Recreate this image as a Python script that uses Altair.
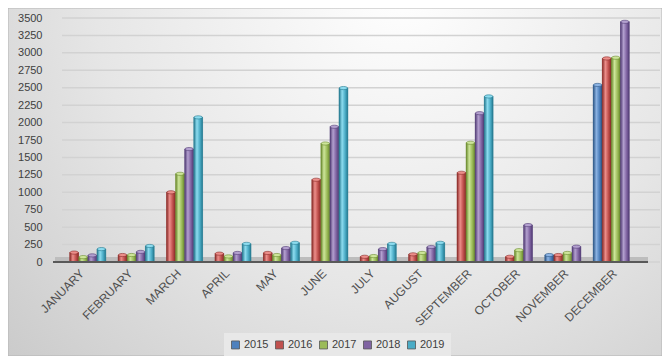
import altair as alt
import pandas as pd

months = ["JANUARY", "FEBRUARY", "MARCH", "APRIL", "MAY", "JUNE", "JULY",
          "AUGUST", "SEPTEMBER", "OCTOBER", "NOVEMBER", "DECEMBER"]
years = ["2015", "2016", "2017", "2018", "2019"]
v2015 = [None, None, None, None, None, None, None, None, None, None, 100, 2540]
v2016 = [135, 100, 1000, 120, 130, 1180, 75, 110, 1280, 75, 100, 2920]
v2017 = [70, 100, 1265, 80, 100, 1700, 85, 130, 1710, 170, 130, 2930]
v2018 = [95, 145, 1620, 130, 200, 1940, 185, 215, 2135, 530, 220, 3445]
v2019 = [185, 230, 2075, 260, 275, 2495, 260, 275, 2375, None, None, None]
y_ticks = list(range(0, 3501, 250))

colors = ["#4f81bd", "#c0504d", "#9bbb59", "#8064a2", "#4bacc6"]
lights = ["#8cb3e3", "#ec8e8a", "#cde59a", "#b3a0cf", "#8ddcef"]
darks = ["#2c5585", "#8a2c29", "#6a8a2e", "#523c75", "#25798f"]

rows = []
for yr, vals in zip(years, [v2015, v2016, v2017, v2018, v2019]):
    for m, v in zip(months, vals):
        if v is not None:
            rows.append({"month": m, "year": yr, "value": v})
df = pd.DataFrame(rows)

W, H = 581, 244
PL, PT, PR, PB = 51, 10, 22, 94
FONT = "Liberation Sans, Arial, sans-serif"

xenc = alt.X("month:N", sort=months,
             scale=alt.Scale(domain=months, paddingInner=0.07, paddingOuter=0.035),
             axis=alt.Axis(title=None, labelAngle=-45, labelAlign="right",
                           labelBaseline="middle", labelPadding=9, labelOffset=-1,
                           ticks=False, domain=False, grid=False, zindex=2,
                           labelFont=FONT, labelFontSize=12, labelColor="#505050"))
xoff = alt.XOffset("year:N", scale=alt.Scale(domain=years, paddingInner=0.04))
yscale = alt.Scale(domain=[0, 3500], nice=False)
yenc = alt.Y("value:Q", scale=yscale,
             axis=alt.Axis(title=None, values=y_ticks, format="d", grid=False, ticks=False,
                           domain=False, labelPadding=17, zindex=2,
                           labelFont=FONT, labelFontSize=11, labelColor="#404040"))

one = pd.DataFrame({"k": [0]})

bg = alt.Chart(one).mark_rect(
    fill={"gradient": "radial", "x1": 0.6, "y1": 0.2, "r1": 0,
          "x2": 0.6, "y2": 0.2, "r2": 0.85,
          "stops": [{"offset": 0, "color": "#ffffff"},
                    {"offset": 0.55, "color": "#e6e6e6"},
                    {"offset": 1, "color": "#c9c9c9"}]},
    stroke="#b5b5b5", strokeWidth=1
).encode(x=alt.value(-PL), x2=alt.value(W + PR), y=alt.value(-PT), y2=alt.value(H + PB))

grid = alt.Chart(pd.DataFrame({"value": y_ticks})).mark_rule(
    color="#d2d2d2", strokeWidth=1.5
).encode(y=yenc, x=alt.value(3), x2=alt.value(601))

floor = alt.Chart(one).mark_rect(fill="#bdbdbd").encode(
    x=alt.value(-4), x2=alt.value(589), y=alt.value(H - 5), y2=alt.value(H))

base = alt.Chart(df).mark_bar().encode(
    x=xenc, xOffset=xoff, y=yenc,
    color=alt.Color("year:N", scale=alt.Scale(domain=years, range=colors),
                    legend=alt.Legend(title=None, orient="none", legendX=165, legendY=315,
                                      direction="horizontal", columns=5,
                                      symbolType="square", symbolSize=64,
                                      symbolStrokeColor="#555555", symbolStrokeWidth=0.8,
                                      labelFont=FONT, labelFontSize=11, labelColor="#404040",
                                      columnPadding=4, labelOffset=3,
                                      fillColor="#e8e8e8", padding=6, zindex=3))
)

layers = [bg, grid, floor, base]
for yr, c, lt, dk in zip(years, colors, lights, darks):
    layers.append(
        alt.Chart(df).transform_filter(alt.datum.year == yr).mark_bar(
            fill={"gradient": "linear", "x1": 0, "y1": 0, "x2": 1, "y2": 0,
                  "stops": [{"offset": 0, "color": dk},
                            {"offset": 0.35, "color": lt},
                            {"offset": 0.7, "color": c},
                            {"offset": 1, "color": dk}]},
            stroke=dk, strokeWidth=0.6
        ).encode(x=xenc, xOffset=xoff, y=yenc)
    )

cap_shape = "M-1,0A1,0.38 0 1,0 1,0A1,0.38 0 1,0 -1,0Z"
for yr, lt, dk in zip(years, lights, darks):
    layers.append(
        alt.Chart(df).transform_filter(alt.datum.year == yr).mark_point(
            shape=cap_shape, filled=True, fill=lt, stroke=dk, strokeWidth=0.6,
            opacity=1, size=70
        ).encode(x=xenc, xOffset=xoff, y=yenc)
    )

line = alt.Chart(one).mark_rule(color="#595959", strokeWidth=2).encode(
    x=alt.value(-6), x2=alt.value(589), y=alt.value(H))
layers.append(line)

chart = alt.layer(*layers).properties(
    width=W, height=H,
    autosize=alt.AutoSizeParams(type="none"),
    padding={"left": PL, "top": PT, "right": PR, "bottom": PB},
).configure_view(stroke=None)

chart.save("out.html", embed_options={"renderer": "svg", "actions": False})
